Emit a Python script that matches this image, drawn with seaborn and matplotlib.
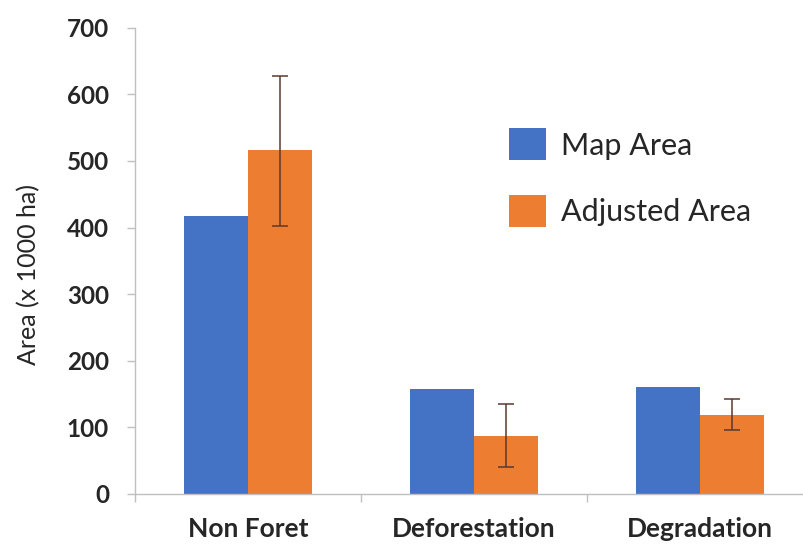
import pandas as pd
import matplotlib
matplotlib.use('Agg')
import matplotlib.pyplot as plt
import seaborn as sns
from matplotlib.patches import Patch
from matplotlib.ticker import FixedLocator

# data
categories = ['Non Foret', 'Deforestation', 'Degradation']
map_area = [418, 157, 161]
adjusted_area = [516, 87, 119]
adj_err_low = [402, 40, 96]
adj_err_high = [628, 135, 142]
series_names = ['Map Area', 'Adjusted Area']
colors = ['#4472C4', '#ED7D31']

df = pd.DataFrame({
    'category': categories * 2,
    'series': [series_names[0]] * 3 + [series_names[1]] * 3,
    'area': map_area + adjusted_area,
})

sns.set_style('white')
plt.rcParams['font.family'] = ['Lato', 'DejaVu Sans']

fig = plt.figure(figsize=(8.04, 5.44), dpi=100)
ax = fig.add_axes([0.168, 0.092, 0.832, 0.857])

sns.barplot(data=df, x='category', y='area', hue='series', order=categories,
            hue_order=series_names, palette=colors, width=0.566, gap=0,
            saturation=1, linewidth=0, errorbar=None, ax=ax, legend=False)

# error bars on the adjusted series
adj_bars = ax.containers[1]
xs = [b.get_x() + b.get_width() / 2 for b in adj_bars]
lo = [a - l for a, l in zip(adjusted_area, adj_err_low)]
hi = [h - a for a, h in zip(adjusted_area, adj_err_high)]
ax.errorbar(xs, adjusted_area, yerr=[lo, hi], fmt='none', ecolor='#5a3a30',
            elinewidth=1.1, capsize=6, capthick=1.1)

ax.set_xlim(-0.5, 2.459)
ax.set_ylim(0, 700)
ax.set_yticks(range(0, 701, 100))
ax.set_xlabel('')
ax.set_ylabel('Area (x 1000 ha)', fontsize=18)
ax.yaxis.set_label_coords(-0.141, 0.470)

for lbl in ax.get_yticklabels():
    lbl.set_fontweight('bold')
    lbl.set_fontsize(17.5)
for lbl in ax.get_xticklabels():
    lbl.set_fontweight('bold')
    lbl.set_fontsize(19)

ax.tick_params(axis='y', left=True, direction='out', length=5.8, color='#bfbfbf', width=1, pad=13)
ax.tick_params(axis='x', which='major', bottom=True, length=0, pad=16.5)
ax.xaxis.set_minor_locator(FixedLocator([-0.5, 0.5, 1.5]))
ax.tick_params(axis='x', which='minor', bottom=True, direction='out', length=5.8, color='#bfbfbf', width=1)

sns.despine(ax=ax, top=True, right=True)
for s in ['left', 'bottom']:
    ax.spines[s].set_color('#bfbfbf')
    ax.spines[s].set_linewidth(1)

handles = [Patch(facecolor=c, edgecolor='none') for c in colors]
ax.legend(handles, series_names, loc='upper left', bbox_to_anchor=(0.559, 0.784),
          frameon=False, fontsize=22, handlelength=1.21, handleheight=1.21,
          labelspacing=1.15, handletextpad=0.5, borderpad=0, borderaxespad=0)

fig.savefig('out.png', dpi=100)
